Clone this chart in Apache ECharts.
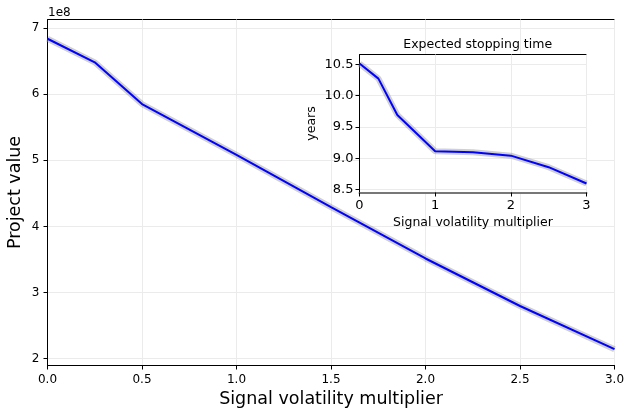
<!DOCTYPE html>
<html>
<head>
<meta charset="utf-8">
<script src="https://cdn.jsdelivr.net/npm/echarts@6/dist/echarts.min.js"></script>
<style>html,body{margin:0;padding:0;background:#fff;}#c{width:626px;height:408px;}</style>
</head>
<body>
<div id="c"></div>
<script>
// ---- data ----
var volMultiplier = [0, 0.25, 0.5, 1.0, 1.5, 2.0, 2.5, 3.0];
var projectValue = [6.835e8, 6.479e8, 5.848e8, 5.08e8, 4.29e8, 3.515e8, 2.797e8, 2.145e8];
var stoppingTime = [10.51, 10.27, 9.69, 9.11, 9.095, 9.04, 8.856, 8.596];
var mainYTicks = [2e8, 3e8, 4e8, 5e8, 6e8, 7e8];
var insetYTicks = [8.5, 9.0, 9.5, 10.0, 10.5];

var FONT = 'DejaVu Sans';
function pairs(xs, ys) { return xs.map(function (x, i) { return [x, ys[i]]; }); }
var mainData = pairs(volMultiplier, projectValue);
var insetData = pairs(volMultiplier, stoppingTime);

var chart = echarts.init(document.getElementById('c'), null, {renderer: 'canvas'});
var gridColor = '#ebebeb';
var option = {
  animation: false,
  backgroundColor: '#fff',
  textStyle: {fontFamily: FONT, color: '#000'},
  title: {
    text: 'Expected stopping time',
    left: 472.7, top: 33, textAlign: 'center',
    textStyle: {fontFamily: FONT, fontSize: 12.5, fontWeight: 'normal', color: '#000'}
  },
  graphic: [{
    type: 'text', left: 48, top: 7,
    style: {text: '1e8', font: '12px "DejaVu Sans"', fill: '#000'}
  }],
  grid: [
    {left: 47.5, right: 11.5, top: 19.5, bottom: 42.5, show: true, borderColor: '#000', borderWidth: 1, backgroundColor: '#fff', z: 0,
      containLabel: false, outerBoundsMode: 'none'},
    {left: 359.5, right: 39.5, top: 54.5, bottom: 215.5, show: true, borderColor: '#000', borderWidth: 1, backgroundColor: '#fff', z: 5,
      containLabel: false, outerBoundsMode: 'none'}
  ],
  xAxis: [
    {
      type: 'value', gridIndex: 0, min: 0, max: 3, interval: 0.5,
      name: 'Signal volatility multiplier', nameLocation: 'middle', nameGap: 25,
      nameTextStyle: {fontFamily: FONT, fontSize: 17.5, color: '#000'},
      axisLine: {show: true, lineStyle: {color: '#000', width: 1}},
      axisTick: {show: true, inside: false, length: 4, lineStyle: {color: '#000'}},
      axisLabel: {margin: 8, fontFamily: FONT, fontSize: 12, color: '#000', formatter: function (v) { return v.toFixed(1); }},
      splitLine: {show: true, lineStyle: {color: gridColor, width: 1}}
    },
    {
      type: 'value', gridIndex: 1, min: 0, max: 3, interval: 1,
      name: 'Signal volatility multiplier', nameLocation: 'middle', nameGap: 24,
      nameTextStyle: {fontFamily: FONT, fontSize: 12.5, color: '#000'},
      axisLine: {show: true, lineStyle: {color: '#777', width: 2}},
      axisTick: {show: true, inside: false, length: 4, lineStyle: {color: '#000'}},
      axisLabel: {margin: 7, fontFamily: FONT, fontSize: 13, color: '#000'},
      splitLine: {show: true, lineStyle: {color: gridColor, width: 1}},
      z: 6
    }
  ],
  yAxis: [
    {
      type: 'value', gridIndex: 0, min: 1.898e8, max: 7.126e8,
      name: 'Project value', nameLocation: 'middle', nameGap: 23, nameRotate: 90, nameMoveOverlap: false,
      nameTextStyle: {fontFamily: FONT, fontSize: 17.5, color: '#000'},
      axisLine: {show: true, lineStyle: {color: '#000', width: 1}},
      axisTick: {show: true, inside: false, length: 4, lineStyle: {color: '#000'}, customValues: mainYTicks},
      axisLabel: {margin: 8, fontFamily: FONT, fontSize: 12, color: '#000', customValues: mainYTicks,
        formatter: function (v) { return String(Math.round(v / 1e8)); }},
      splitLine: {show: true, lineStyle: {color: gridColor, width: 1}}
    },
    {
      type: 'value', gridIndex: 1, min: 8.452, max: 10.655,
      name: 'years', nameLocation: 'middle', nameGap: 41, nameRotate: 90,
      nameTextStyle: {fontFamily: FONT, fontSize: 12.5, color: '#000'},
      axisLine: {show: true, lineStyle: {color: '#000', width: 1}},
      axisTick: {show: true, inside: false, length: 4, lineStyle: {color: '#000'}, customValues: insetYTicks},
      axisLabel: {margin: 6, fontFamily: FONT, fontSize: 13, color: '#000', customValues: insetYTicks,
        formatter: function (v) { return v.toFixed(1); }},
      splitLine: {show: true, lineStyle: {color: gridColor, width: 1}},
      z: 6
    }
  ],
  series: [
    {type: 'line', xAxisIndex: 0, yAxisIndex: 0, data: mainData, showSymbol: false, silent: true,
      lineStyle: {color: 'rgba(150,150,150,0.45)', width: 6}, z: 2},
    {type: 'line', xAxisIndex: 0, yAxisIndex: 0, data: mainData, showSymbol: false,
      lineStyle: {color: '#0000ff', width: 2}, z: 3},
    {type: 'line', xAxisIndex: 1, yAxisIndex: 1, data: insetData, showSymbol: false, silent: true,
      lineStyle: {color: 'rgba(150,150,150,0.45)', width: 6}, z: 7},
    {type: 'line', xAxisIndex: 1, yAxisIndex: 1, data: insetData, showSymbol: false,
      lineStyle: {color: '#0000ff', width: 2}, z: 8}
  ]
};
chart.setOption(option);
</script>
</body>
</html>
